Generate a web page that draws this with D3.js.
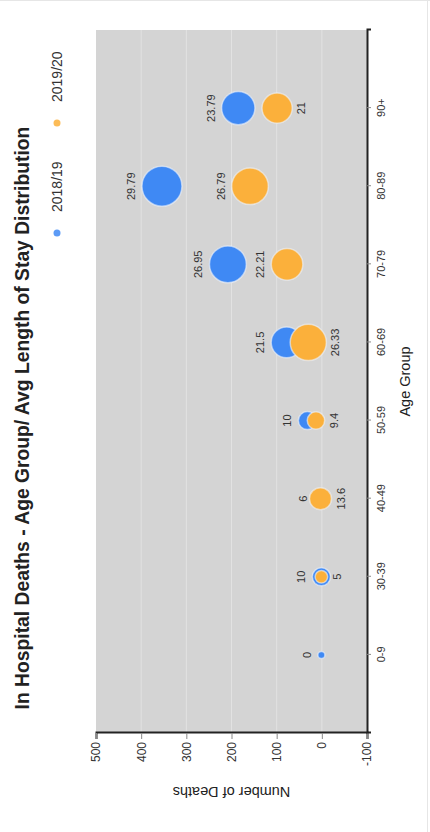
<!DOCTYPE html>
<html>
<head>
<meta charset="utf-8">
<script src="https://cdn.jsdelivr.net/npm/d3@7/dist/d3.min.js"></script>
<style>
  html, body { margin: 0; padding: 0; background: #fff; }
  svg { display: block; font-family: "Liberation Sans", Arial, sans-serif; }
</style>
</head>
<body>
<div id="chart"></div>
<script>
// Age groups shown on the category axis
const ageGroups = ["0-9", "30-39", "40-49", "50-59", "60-69", "70-79", "80-89", "90+"];

// 2018/19: number of deaths and average length of stay (days)
const deaths1819 = [1, 1, 2, 32, 78, 208, 354, 185];
const avgStay1819 = [0, 10, 6, 10, 21.5, 26.95, 29.79, 23.79];

// 2019/20: number of deaths and average length of stay (days)
const deaths1920 = [null, 1, 3, 13, 30, 77, 159, 99];
const avgStay1920 = [null, 5, 13.6, 9.4, 26.33, 22.21, 26.79, 21];

const seriesNames = ["2018/19", "2019/20"];
const yTicks = [-100, 0, 100, 200, 300, 400, 500];

const pageW = 430, pageH = 832;
// The chart is laid out landscape and turned a quarter turn on the page
const W = pageH, H = pageW;
const plot = { left: 99, right: 802, top: 96, bottom: 367 };
const colors = ["#3f89f4", "#fbb03b"];

const svg = d3.select("#chart").append("svg")
  .attr("width", pageW).attr("height", pageH);

// faint frame
svg.append("line").attr("x1", 0).attr("x2", pageW).attr("y1", 0.5).attr("y2", 0.5)
  .attr("stroke", "#e6e6e6");
svg.append("line").attr("x1", 427.5).attr("x2", 427.5).attr("y1", 0).attr("y2", pageH)
  .attr("stroke", "#e6e6e6");

const g = svg.append("g").attr("transform", `translate(0,${pageH}) rotate(-90)`);

const x = d3.scalePoint().domain(ageGroups).range([plot.left, plot.right]).padding(1);
const y = d3.scaleLinear().domain([-100, 500]).range([plot.bottom, plot.top]);
const allStay = avgStay1819.concat(avgStay1920).filter(v => v != null);
const r = d3.scaleLinear().domain([0, d3.max(allStay)]).range([3.5, 20]);

// plot background
g.append("rect")
  .attr("x", plot.left).attr("y", plot.top)
  .attr("width", plot.right - plot.left).attr("height", plot.bottom - plot.top)
  .attr("fill", "#d4d4d4");

// horizontal gridlines
g.append("g").selectAll("line").data(yTicks.filter(t => t > -100 && t < 500)).join("line")
  .attr("x1", plot.left).attr("x2", plot.right)
  .attr("y1", d => y(d)).attr("y2", d => y(d))
  .attr("stroke", "#e2e2e2").attr("stroke-width", 1);

// axes
const yAxis = g.append("g").attr("transform", `translate(${plot.left},0)`)
  .call(d3.axisLeft(y).tickValues(yTicks).tickFormat(d => String(d)).tickSize(6).tickPadding(3));
const xAxis = g.append("g").attr("transform", `translate(0,${plot.bottom})`)
  .call(d3.axisBottom(x).tickSize(4).tickPadding(6));
[yAxis, xAxis].forEach(a => {
  a.select(".domain").attr("stroke", "#222").attr("stroke-width", 2);
  a.selectAll(".tick line").attr("stroke", "#888");
  a.selectAll("text").attr("fill", "#333").attr("font-family", "Liberation Sans, Arial, sans-serif");
});
yAxis.selectAll("text").attr("font-size", 12);
xAxis.selectAll("text").attr("font-size", 11);

// axis titles
g.append("text").attr("x", (plot.left + plot.right) / 2).attr("y", 405)
  .attr("text-anchor", "middle").attr("dominant-baseline", "central")
  .attr("font-size", 14.5).attr("fill", "#222").text("Age Group");
g.append("text")
  .attr("transform", `translate(40,${(plot.top + plot.bottom) / 2}) rotate(-90)`)
  .attr("text-anchor", "middle").attr("dominant-baseline", "central")
  .attr("font-size", 14.5).attr("fill", "#222").text("Number of Deaths");

// title
g.append("text").attr("x", W / 2 - 2).attr("y", 22)
  .attr("text-anchor", "middle").attr("dominant-baseline", "central")
  .attr("font-size", 19.3).attr("font-weight", "bold").attr("fill", "#222")
  .text("In Hospital Deaths - Age Group/ Avg Length of Stay Distribution");

// legend
const legendX = [599, 709];
seriesNames.forEach((name, i) => {
  g.append("circle").attr("cx", legendX[i]).attr("cy", 57).attr("r", 3.5)
    .attr("fill", colors[i]).attr("opacity", 0.85);
  g.append("text").attr("x", legendX[i] + 21).attr("y", 57)
    .attr("dominant-baseline", "central").attr("font-size", 14)
    .attr("fill", "#333").text(name);
});

// bubbles
const rows = ageGroups.map((a, i) => ({
  age: a,
  d1: deaths1819[i], s1: avgStay1819[i],
  d2: deaths1920[i], s2: avgStay1920[i]
}));

const series = [
  rows.filter(d => d.d1 != null).map(d => ({ age: d.age, deaths: d.d1, stay: d.s1 })),
  rows.filter(d => d.d2 != null).map(d => ({ age: d.age, deaths: d.d2, stay: d.s2 }))
];

series.forEach((pts, i) => {
  g.append("g").selectAll("circle").data(pts).join("circle")
    .attr("cx", d => x(d.age)).attr("cy", d => y(d.deaths)).attr("r", d => r(d.stay))
    .attr("fill", colors[i])
    .attr("stroke", "#eef3fb").attr("stroke-opacity", 0.6).attr("stroke-width", 1.5);
});

// value labels: 2018/19 above its bubble; 2019/20 above when there is room, else below
rows.forEach(d => {
  const cx = x(d.age);
  let blueBottom = -Infinity;
  if (d.d1 != null) {
    const cy = y(d.d1), rr = r(d.s1);
    blueBottom = cy + rr;
    g.append("text").attr("x", cx).attr("y", cy - rr - 11)
      .attr("text-anchor", "middle").attr("dominant-baseline", "central")
      .attr("font-size", 11).attr("fill", "#333").text(d.s1);
  }
  if (d.d2 != null) {
    const cy = y(d.d2), rr = r(d.s2);
    const room = (cy - rr) - blueBottom;
    const ly = room > 20 ? cy - rr - 11 : cy + rr + 9;
    g.append("text").attr("x", cx).attr("y", ly)
      .attr("text-anchor", "middle").attr("dominant-baseline", "central")
      .attr("font-size", 11).attr("fill", "#333").text(d.s2);
  }
});
</script>
</body>
</html>
